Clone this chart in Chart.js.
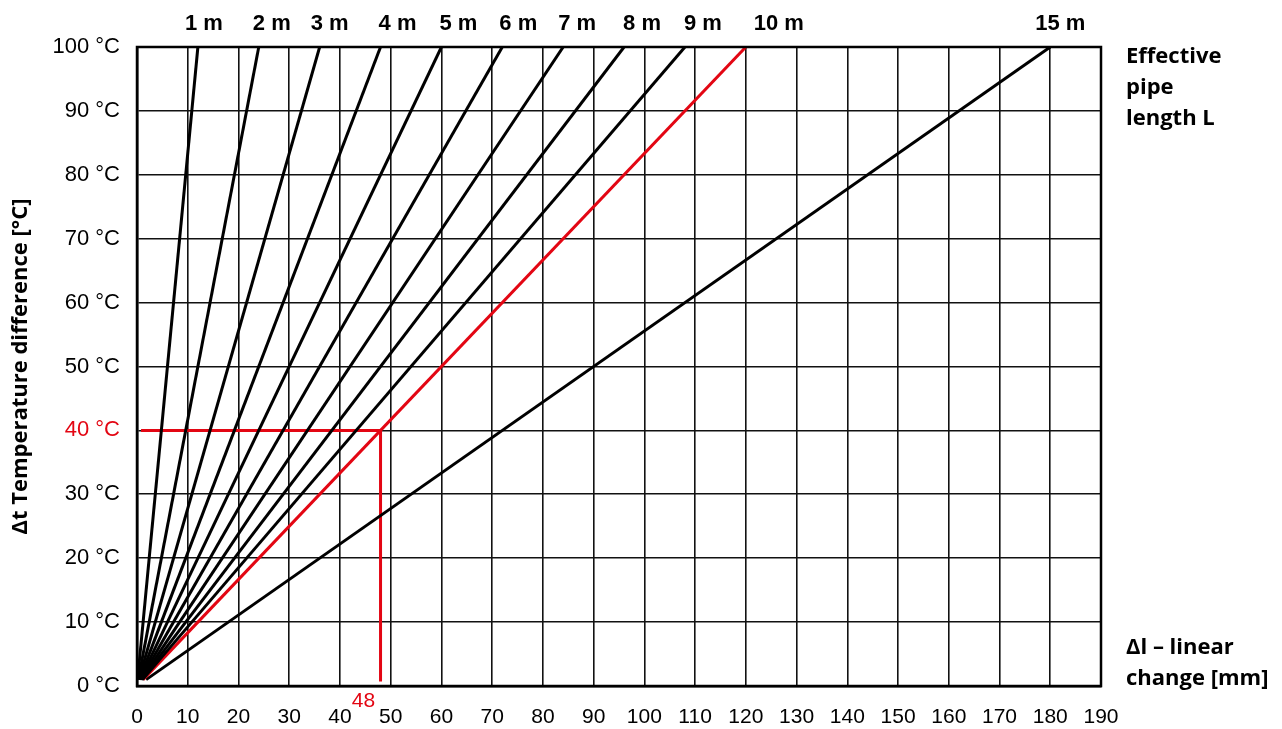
<!DOCTYPE html>
<html>
<head>
<meta charset="utf-8">
<script src="https://cdn.jsdelivr.net/npm/chart.js@4.4.1/dist/chart.umd.min.js"></script>
<style>
  html, body { margin: 0; padding: 0; background: #fff; }
  #wrap { width: 1282px; height: 729px; position: relative; }
</style>
</head>
<body>
<div id="wrap"><canvas id="chart"></canvas></div>
<script>
// effective pipe lengths and where each line meets the 1 °C and 100 °C rows (mm)
const pipeLengths = ['1 m', '2 m', '3 m', '4 m', '5 m', '6 m', '7 m', '8 m', '9 m', '10 m', '15 m'];
const changeAtTop = [12, 24, 36, 48, 60, 72, 84, 96, 108, 120, 180];
const changeAtStart = [0.12, 0.24, 0.36, 0.48, 0.6, 0.72, 0.84, 0.96, 1.08, 1.2, 1.8];
const dtTop = 100;
const dtStart = 1;
const highlighted = '10 m';

// worked example: 40 °C on 10 m -> 48 mm
const exampleDt = 40;
const exampleChange = 48;
const exampleFrom = [0.8, 0.7];   // start of horizontal guide (x), end of vertical guide (y)

const xTicks = [0, 10, 20, 30, 40, 50, 60, 70, 80, 90, 100, 110, 120, 130, 140, 150, 160, 170, 180, 190];
const yTicks = [0, 10, 20, 30, 40, 50, 60, 70, 80, 90, 100];

const RED = '#e30613';
const labelNudge = [6, 13, 10, 17, 17, 16, 14, 18, 18, 33, 10];

const datasets = pipeLengths.map((name, i) => ({
  label: name,
  data: [{ x: changeAtStart[i], y: dtStart }, { x: changeAtTop[i], y: dtTop }],
  borderColor: name === highlighted ? RED : '#000',
  borderWidth: 3,
  pointRadius: 0,
  fill: false
}));
datasets.push({
  label: 'example',
  data: [
    { x: exampleFrom[0], y: exampleDt },
    { x: exampleChange, y: exampleDt },
    { x: exampleChange, y: exampleFrom[1] }
  ],
  borderColor: RED,
  borderWidth: 3,
  pointRadius: 0,
  borderJoinStyle: 'miter',
  fill: false
});

const annotations = {
  id: 'annotations',
  afterDatasetsDraw(chart) {
    const ctx = chart.ctx;
    const x = chart.scales.x;
    const a = chart.chartArea;
    ctx.save();
    // frame
    ctx.strokeStyle = '#000';
    ctx.lineWidth = 2.5;
    ctx.strokeRect(a.left, a.top, a.right - a.left, a.bottom - a.top);

    // length labels over the top
    ctx.fillStyle = '#000';
    ctx.font = 'bold 22px "Liberation Sans", Arial, sans-serif';
    ctx.textAlign = 'center';
    ctx.textBaseline = 'alphabetic';
    pipeLengths.forEach((name, i) => {
      ctx.fillText(name, x.getPixelForValue(changeAtTop[i]) + labelNudge[i], 30);
    });

    // right hand captions
    ctx.textAlign = 'left';
    ctx.font = 'bold 22px "Open Sans", sans-serif';
    ['Effective', 'pipe', 'length L'].forEach((t, i) => ctx.fillText(t, a.right + 25, 63 + i * 31));
    ['\u0394l \u2013 linear', 'change [mm]'].forEach((t, i) => ctx.fillText(t, a.right + 25, 654 + i * 31));

    // example value under the axis
    ctx.fillStyle = RED;
    ctx.font = '21px "Liberation Sans", Arial, sans-serif';
    ctx.textAlign = 'center';
    ctx.fillText(String(exampleChange), x.getPixelForValue(exampleChange) - 17, 707);
    ctx.restore();
  }
};

new Chart(document.getElementById('chart'), {
  type: 'line',
  data: { datasets },
  options: {
    responsive: true,
    maintainAspectRatio: false,
    animation: false,
    layout: { padding: { left: 0, top: 47, right: 181, bottom: 0 } },
    plugins: { legend: { display: false }, tooltip: { enabled: false } },
    scales: {
      x: {
        type: 'linear',
        min: 0, max: 190,
        afterFit(scale) { scale.height = 43; },
        afterBuildTicks(scale) { scale.ticks = xTicks.map(v => ({ value: v })); },
        grid: { color: '#111', lineWidth: 1.6, drawTicks: false },
        border: { display: true, color: '#000', width: 2.5 },
        ticks: {
          padding: 19,
          maxRotation: 0,
          autoSkip: false,
          color: '#000',
          font: { family: '"Liberation Sans", Arial, sans-serif', size: 21 }
        }
      },
      y: {
        type: 'linear',
        min: 0, max: 100,
        afterFit(scale) { scale.width = 137; },
        afterBuildTicks(scale) { scale.ticks = yTicks.map(v => ({ value: v })); },
        grid: { color: '#111', lineWidth: 1.6, drawTicks: false },
        border: { display: true, color: '#000', width: 2.5 },
        title: {
          display: true,
          text: '\u0394t Temperature difference [\u00b0C]',
          color: '#000',
          padding: { top: 8, bottom: 0 },
          font: { family: '"Open Sans", sans-serif', size: 22, weight: 'bold' }
        },
        ticks: {
          padding: 17,
          autoSkip: false,
          color: c => c.tick.value === exampleDt ? RED : '#000',
          font: { family: '"Liberation Sans", Arial, sans-serif', size: 22 },
          callback: v => v + ' \u00b0C'
        }
      }
    }
  },
  plugins: [annotations]
});
</script>
</body>
</html>
